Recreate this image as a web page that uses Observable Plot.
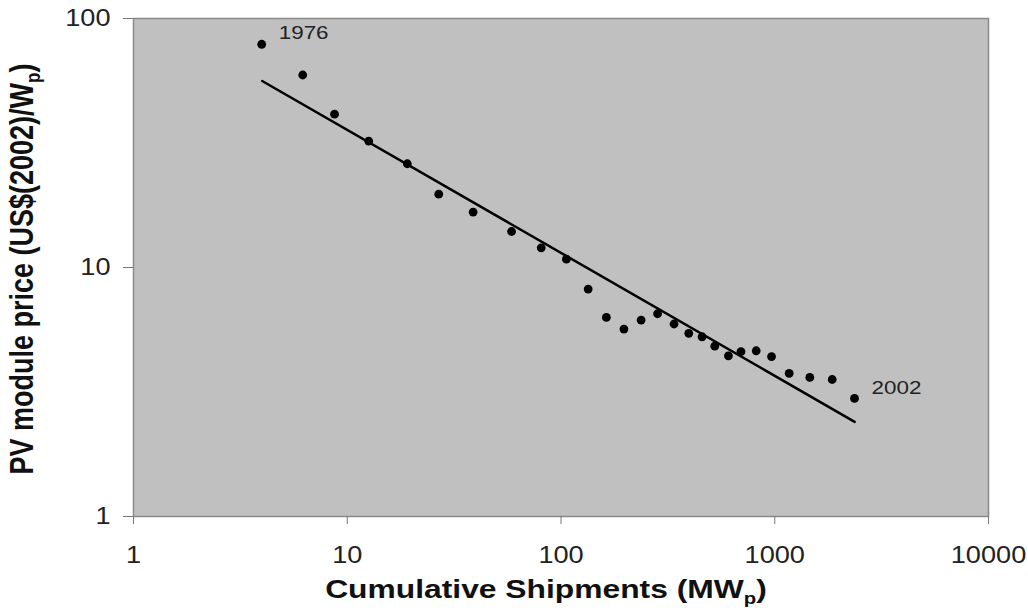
<!DOCTYPE html>
<html>
<head>
<meta charset="utf-8">
<script src="https://cdn.jsdelivr.net/npm/d3@7"></script>
<script src="https://cdn.jsdelivr.net/npm/@observablehq/plot@0.6"></script>
<style>
  html, body { margin: 0; padding: 0; background: #fff; }
  #chart { width: 1028px; height: 612px; }
</style>
</head>
<body>
<div id="chart"></div>
<script>
// Cumulative shipments (MWp), 1976..2002
const shipments = [3.98, 6.19, 8.72, 12.6, 19.1, 26.8, 38.8, 58.7, 80.8, 106, 134, 163, 197, 237, 283, 338, 396, 457, 524, 607, 695, 819, 966, 1168, 1459, 1857, 2361];
// PV module price (US$(2002)/Wp)
const prices = [78.8, 59.3, 41.3, 32.2, 26.1, 19.7, 16.7, 13.95, 12.0, 10.8, 8.19, 6.30, 5.66, 6.15, 6.52, 5.93, 5.44, 5.27, 4.83, 4.42, 4.59, 4.63, 4.39, 3.76, 3.62, 3.55, 2.98];
const years = d3.range(1976, 2003);

// Experience-curve fit line endpoints
const fitX = [4.0, 2365];
const fitY = [56.1, 2.40];

// Annotated years
const labelYears = [1976, 2002];

const xTicks = [1, 10, 100, 1000, 10000];
const yTicks = [1, 10, 100];

const points = shipments.map((s, i) => ({x: s, y: prices[i], year: years[i]}));
const fit = fitX.map((x, i) => ({x, y: fitY[i]}));
const labels = points.filter(p => labelYears.includes(p.year));

const FONT = "'Liberation Sans', Arial, sans-serif";

const svg = Plot.plot({
  width: 1028,
  height: 612,
  marginLeft: 133,
  marginRight: 40,
  marginTop: 18,
  marginBottom: 96,
  style: {fontFamily: FONT, fontSize: "23px", color: "#222", background: "#fff"},
  x: {type: "log", domain: [1, 10000]},
  y: {type: "log", domain: [1, 100]},
  marks: [
    Plot.frame({fill: "#c0c0c0", stroke: "#8a8a8a", strokeWidth: 1.5}),
    Plot.axisX({ticks: xTicks, tickFormat: d => String(d), tickSize: 8, tickPadding: 22, fontSize: 23, label: null, stroke: "#777", ariaLabel: "x-axis"}),
    Plot.axisY({ticks: yTicks, tickFormat: d => String(d), tickSize: 10, tickPadding: 13, fontSize: 23, label: null, stroke: "#777", ariaLabel: "y-axis"}),
    Plot.line(fit, {x: "x", y: "y", stroke: "#000", strokeWidth: 2.5}),
    Plot.dot(points, {x: "x", y: "y", r: 4.4, fill: "#000", stroke: "none"}),
    Plot.text(labels, {x: "x", y: "y", text: d => String(d.year), textAnchor: "start", dx: 17, dy: -11, fontSize: 19, fill: "#222"})
  ]
});

const s = d3.select(svg);
// Widen the tick and annotation labels slightly (reference glyphs are horizontally stretched)
s.selectAll("text").each(function () {
  const t = this.getAttribute("transform");
  if (t && /translate/.test(t)) this.setAttribute("transform", t + " scale(1.18,1)");
});

// X axis title with subscript
const xt = s.append("text")
  .attr("transform", "translate(546,598) scale(1.2,1)")
  .attr("text-anchor", "middle")
  .attr("font-family", FONT)
  .attr("font-weight", "bold").attr("font-size", 26.5).attr("fill", "#111");
xt.append("tspan").text("Cumulative Shipments (MW");
xt.append("tspan").attr("font-size", 17).attr("dy", 6).text("p");
xt.append("tspan").attr("dy", -6).text(")");

// Y axis title with subscript
const yt = s.append("text")
  .attr("transform", "translate(33,269) scale(1.2,1) rotate(-90)")
  .attr("text-anchor", "middle")
  .attr("font-family", FONT)
  .attr("font-weight", "bold").attr("font-size", 27).attr("fill", "#111");
yt.append("tspan").text("PV module price (US$(2002)/W");
yt.append("tspan").attr("font-size", 17).attr("dy", 6).text("p");
yt.append("tspan").attr("dy", -6).text(")");

document.getElementById("chart").appendChild(svg);
</script>
</body>
</html>
